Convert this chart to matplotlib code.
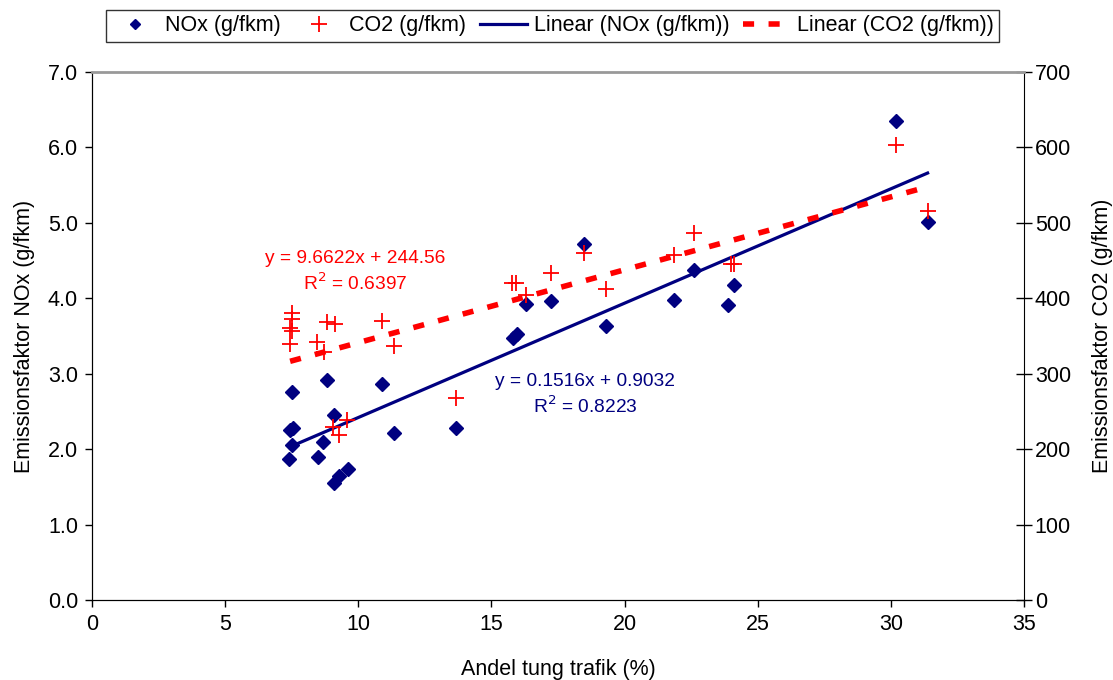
import matplotlib
matplotlib.use("Agg")
import numpy as np
import matplotlib.pyplot as plt
from matplotlib.lines import Line2D

# andel tung trafik (%) and emission factors
x_nox = [7.41, 7.44, 7.55, 7.50, 7.50, 8.49, 8.69, 8.81, 9.09, 9.09, 9.28, 9.62, 10.90, 11.33,
         13.67, 15.80, 15.95, 16.30, 17.24, 18.49, 19.29, 21.87, 22.61, 23.87, 24.12, 30.19, 31.38]
nox = [1.87, 2.25, 2.28, 2.05, 2.76, 1.89, 2.10, 2.92, 2.45, 1.55, 1.64, 1.74, 2.87, 2.22,
       2.28, 3.47, 3.52, 3.93, 3.96, 4.72, 3.63, 3.98, 4.37, 3.91, 4.17, 6.35, 5.01]

x_co2 = [7.50, 7.52, 7.44, 7.50, 7.44, 8.46, 8.71, 8.81, 9.12, 9.04, 9.28, 9.56, 10.90, 11.34,
         13.67, 15.76, 15.94, 16.30, 17.24, 18.49, 19.29, 21.87, 22.61, 24.00, 24.10, 30.19, 31.38]
co2 = [380, 373, 360, 357, 340, 342, 329, 369, 366, 230, 219, 239, 370, 337,
       268, 420, 420, 405, 434, 460, 412, 457, 487, 446, 446, 603, 516]

# trend line coefficients (Excel)
nox_fit = (0.1516, 0.9032, 0.8223)
co2_fit = (9.6622, 244.56, 0.6397)

navy = "#000080"
red = "#ff0000"
plt.rcParams["font.family"] = ["Liberation Sans", "DejaVu Sans"]
fs = 15.5

fig = plt.figure(figsize=(11.13, 6.8), dpi=100)
ax = fig.add_axes([92 / 1113, 80 / 680, 932 / 1113, 528 / 680])
ax2 = ax.twinx()

ax.plot(x_nox, nox, "D", color=navy, markersize=7, zorder=3)
ax2.plot(x_co2, co2, "+", color=red, markersize=12, mew=1.3, zorder=3)

xs = np.array([min(x_nox), max(x_nox)])
ax.plot(xs, nox_fit[0] * xs + nox_fit[1], color=navy, lw=2.3, zorder=2)
xs2 = np.array([min(x_co2), max(x_co2)])
l2, = ax2.plot(xs2, co2_fit[0] * xs2 + co2_fit[1], color=red, lw=4, zorder=2,
               solid_capstyle="butt", dash_capstyle="butt")
l2.set_dashes([2.0, 2.6])

ax.set_xlim(0, 35)
ax.set_ylim(0, 7)
ax2.set_ylim(0, 700)
ax.set_xticks(np.arange(0, 36, 5))
ax.set_yticks(np.arange(0, 7.1, 1))
ax.set_yticklabels(["%.1f" % v for v in np.arange(0, 7.1, 1)])
ax2.set_yticks(np.arange(0, 701, 100))
ax.tick_params(direction="out", length=5, width=1, labelsize=fs, pad=5)
ax2.tick_params(direction="inout", length=11.5, width=1, labelsize=fs, pad=2)
ax.spines["right"].set_visible(False)
ax.spines["top"].set_visible(False)
ax2.spines["top"].set_color("#999999")
ax2.spines["top"].set_linewidth(2)

ax.set_xlabel("Andel tung trafik (%)", fontsize=fs, labelpad=17)
ax.set_ylabel("Emissionsfaktor NOx (g/fkm)", fontsize=fs, labelpad=9)
ax2.set_ylabel("Emissionsfaktor CO2 (g/fkm)", fontsize=fs, labelpad=15, rotation=90)

ax.text(9.88, 4.35, "y = %.4fx + %.2f\nR$^2$ = %.4f" % co2_fit, color=red, fontsize=13.8,
        ha="center", va="center", linespacing=1.3)
ax.text(18.51, 2.72, "y = %.4fx + %.4f\nR$^2$ = %.4f" % nox_fit, color=navy, fontsize=13.8,
        ha="center", va="center", linespacing=1.3)

handles = [
    Line2D([], [], ls="none", marker="D", color=navy, markersize=5),
    Line2D([], [], ls="none", marker="+", color=red, markersize=11, mew=1.3),
    Line2D([], [], color=navy, lw=2.3),
    Line2D([], [], color=red, lw=4, dashes=[2.0, 2.6]),
]
labels = ["NOx (g/fkm)", "CO2 (g/fkm)", "Linear (NOx (g/fkm))", "Linear (CO2 (g/fkm))"]
leg = fig.legend(handles, labels, loc="upper center", bbox_to_anchor=(0.4965, 1 - 10 / 680), ncol=4,
                 fontsize=fs, frameon=True, fancybox=False, edgecolor="black", borderaxespad=0,
                 handlelength=2.2, handletextpad=0.3, columnspacing=0.65, borderpad=0.25)
leg.get_frame().set_linewidth(1)

fig.savefig("out.png", dpi=100)
